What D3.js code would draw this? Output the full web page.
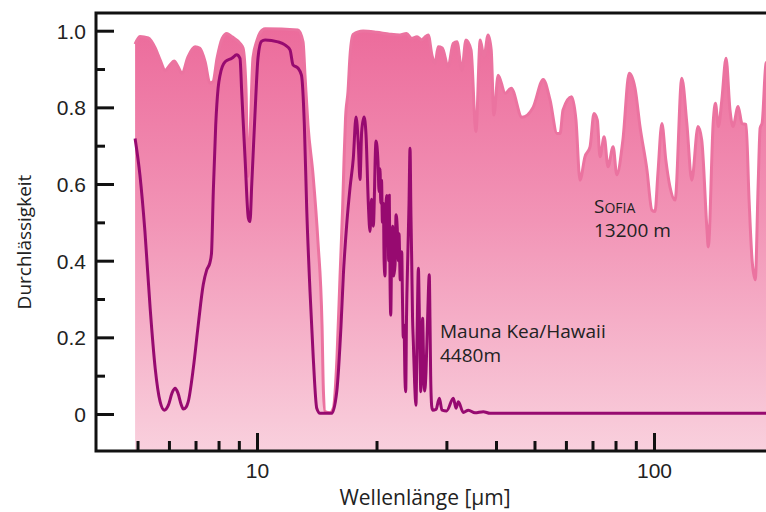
<!DOCTYPE html>
<html>
<head>
<meta charset="utf-8">
<script src="https://cdn.jsdelivr.net/npm/d3@7"></script>
<style>
  body { margin: 0; background: #fff; }
  svg { display: block; font-family: "Open Sans", "DejaVu Sans", sans-serif; }
</style>
</head>
<body>
<div id="chart"></div>
<script>
const width = 766;
const height = 512;
const margin = { top: 13, right: 0, bottom: 61, left: 96 };

// SOFIA (13200 m) – Wellenlänge [µm] und Durchlässigkeit
const sofiaWl = [4.93, 5.07, 5.32, 5.54, 5.70, 5.87, 6.04, 6.18, 6.33, 6.47, 6.70, 6.98, 7.18, 7.40, 7.61, 7.75, 7.93, 8.17, 8.40, 8.65,
  9.06, 9.22, 9.38, 9.49, 9.60, 9.77, 10.0, 10.18, 10.48, 12.68, 13.06, 13.21, 13.44, 13.84, 14.24, 14.58, 14.70, 14.84, 15.27, 15.58,
  15.90, 16.19, 16.43, 16.57, 16.71, 16.95, 17.15, 17.46, 18.5, 20.0, 21.6, 22.9, 23.8, 24.5, 25.3, 26.0, 26.5, 27.0, 27.6, 28.1,
  28.6, 29.3, 30.3, 31.2, 31.9, 32.8, 33.6, 34.6, 35.6, 36.5, 37.3, 38.2, 38.9, 39.5, 40.5, 42.2, 43.7, 46.5, 49.6, 52.6,
  54.7, 57.0, 58.0, 59.0, 62.0, 63.6, 65.1, 67.0, 69.0, 70.6, 72.0, 73.1, 74.9, 76.6, 78.9, 80.6, 83.5, 86.6, 89.6, 92.2,
  96.0, 98.8, 100.6, 102.3, 104.7, 107.1, 109.7, 113.0, 117.5, 121.0, 124.5, 129.1, 131.9, 136.0, 137.0, 141.1, 142.8, 145.3, 148.2, 151.9,
  155.4, 158.1, 162.9, 166.6, 170.6, 173.6, 176.7, 179.9, 183.0, 185.1, 187.3, 191.5, 200];
const sofiaT = [0.965, 0.985, 0.981, 0.955, 0.924, 0.897, 0.911, 0.921, 0.906, 0.889, 0.932, 0.958, 0.954, 0.919, 0.863, 0.867, 0.928, 0.980, 0.993, 0.984,
  0.967, 0.955, 0.85, 0.62, 0.72, 0.93, 0.975, 0.995, 1.005, 1.002, 0.971, 0.884, 0.754, 0.624, 0.450, 0.232, 0.058, 0.006, 0.003, 0.016,
  0.146, 0.363, 0.537, 0.668, 0.772, 0.841, 0.935, 0.990, 0.999, 0.996, 0.991, 0.989, 0.993, 0.980, 0.984, 0.976, 0.984, 0.989, 0.935, 0.915,
  0.958, 0.955, 0.906, 0.967, 0.971, 0.897, 0.976, 0.95, 0.737, 0.976, 0.932, 0.989, 0.95, 0.780, 0.884, 0.837, 0.850, 0.774, 0.800, 0.873,
  0.820, 0.732, 0.732, 0.793, 0.828, 0.767, 0.610, 0.671, 0.697, 0.784, 0.767, 0.671, 0.723, 0.645, 0.697, 0.624, 0.715, 0.889, 0.850, 0.750,
  0.637, 0.532, 0.528, 0.628, 0.758, 0.663, 0.593, 0.558, 0.876, 0.758, 0.610, 0.750, 0.715, 0.480, 0.436, 0.767, 0.811, 0.750, 0.819, 0.928,
  0.793, 0.750, 0.802, 0.758, 0.755, 0.558, 0.40, 0.350, 0.600, 0.746, 0.760, 0.915, 0.93];

// Mauna Kea/Hawaii (4480 m)
const maunaWl = [4.93, 5.07, 5.22, 5.38, 5.54, 5.70, 5.84, 5.98, 6.11, 6.22, 6.32, 6.44, 6.52, 6.63, 6.71, 6.91, 7.11, 7.32, 7.47, 7.61,
  7.68, 7.76, 7.87, 7.98, 8.07, 8.31, 8.64, 8.89, 9.06, 9.15, 9.33, 9.51, 9.60, 9.70, 9.88, 10.06, 10.26, 10.48, 11.29, 11.76,
  12.11, 12.32, 12.69, 12.94, 13.16, 13.34, 13.60, 13.86, 14.14, 14.41, 15.43, 15.88, 16.28, 16.50, 16.82, 17.15, 17.48, 17.76, 18.00, 18.17,
  18.35, 18.60, 18.82, 19.07, 19.26, 19.43, 19.63, 19.94, 20.17, 20.30, 20.41, 20.50, 20.59, 20.70, 20.81, 20.90, 21.01, 21.10, 21.22, 21.30,
  21.38, 21.46, 21.54, 21.63, 21.72, 21.85, 21.97, 22.10, 22.27, 22.40, 22.56, 22.68, 22.79, 22.95, 23.15, 23.25, 23.36, 23.46, 23.58, 23.69,
  23.80, 23.97, 24.15, 24.29, 24.42, 24.53, 24.65, 24.76, 24.95, 25.14, 25.30, 25.50, 25.62, 25.74, 25.86, 26.00, 26.13, 26.27, 26.45, 26.65,
  26.90, 27.16, 27.27, 27.38, 27.55, 27.70, 28.24, 28.80, 29.24, 30.04, 31.23, 31.72, 32.15, 33.09, 34.07, 35.41, 37.15, 38.63, 200];
const maunaT = [0.719, 0.624, 0.476, 0.276, 0.119, 0.032, 0.010, 0.023, 0.055, 0.067, 0.055, 0.025, 0.013, 0.018, 0.032, 0.119, 0.232, 0.337, 0.376, 0.395,
  0.42, 0.580, 0.754, 0.850, 0.884, 0.919, 0.928, 0.937, 0.928, 0.841, 0.667, 0.511, 0.502, 0.600, 0.78, 0.93, 0.972, 0.976, 0.971, 0.963,
  0.950, 0.911, 0.902, 0.884, 0.754, 0.537, 0.319, 0.145, 0.015, 0.002, 0.002, 0.058, 0.232, 0.363, 0.493, 0.590, 0.667, 0.775, 0.702, 0.612,
  0.737, 0.775, 0.728, 0.55, 0.476, 0.56, 0.490, 0.712, 0.66, 0.58, 0.64, 0.55, 0.61, 0.50, 0.55, 0.40, 0.36, 0.52, 0.57, 0.45,
  0.52, 0.40, 0.571, 0.35, 0.258, 0.45, 0.49, 0.36, 0.389, 0.52, 0.484, 0.40, 0.47, 0.35, 0.423, 0.30, 0.20, 0.232, 0.10, 0.058,
  0.25, 0.406, 0.55, 0.693, 0.52, 0.40, 0.25, 0.189, 0.08, 0.023, 0.20, 0.380, 0.28, 0.15, 0.058, 0.12, 0.25, 0.15, 0.06, 0.110,
  0.25, 0.363, 0.25, 0.10, 0.02, 0.010, 0.012, 0.041, 0.010, 0.008, 0.041, 0.015, 0.032, 0.004, 0.010, 0.003, 0.006, 0.002, 0.002];

const yTicks = [0, 0.2, 0.4, 0.6, 0.8, 1.0];
const yTickLabels = ["0", "0.2", "0.4", "0.6", "0.8", "1.0"];
const yMinorTicks = [0.1, 0.3, 0.5, 0.7, 0.9];
const xTicks = [10, 100];
const xMinorTicks = [5, 6, 7, 8, 9, 20, 30, 40, 50, 60, 70, 80, 90];

const sofia = sofiaWl.map((w, i) => ({ w: w, t: sofiaT[i] }));
const mauna = maunaWl.map((w, i) => ({ w: w, t: maunaT[i] }));

const svg = d3.select("#chart").append("svg")
  .attr("width", width)
  .attr("height", height);

const x = d3.scaleLog().domain([3.93, 191.5]).range([margin.left, width - margin.right]);
const y = d3.scaleLinear().domain([0, 1]).range([414, 30.7]);
const bottom = height - margin.bottom;

// Verlauf für die SOFIA-Fläche
const defs = svg.append("defs");
const grad = defs.append("linearGradient")
  .attr("id", "sofia-grad")
  .attr("gradientUnits", "userSpaceOnUse")
  .attr("x1", 0).attr("y1", y(1))
  .attr("x2", 0).attr("y2", bottom);
grad.append("stop").attr("offset", "0%").attr("stop-color", "#ec6c9c");
grad.append("stop").attr("offset", "45%").attr("stop-color", "#f294b6");
grad.append("stop").attr("offset", "100%").attr("stop-color", "#f9d0dd");

defs.append("clipPath").attr("id", "plot-clip")
  .append("rect")
  .attr("x", margin.left).attr("y", margin.top)
  .attr("width", width - margin.left - margin.right)
  .attr("height", bottom - margin.top);

const plot = svg.append("g").attr("clip-path", "url(#plot-clip)");

const area = d3.area()
  .x(d => x(d.w))
  .y0(bottom)
  .y1(d => y(d.t))
  .curve(d3.curveMonotoneX);

const line = d3.line()
  .x(d => x(d.w))
  .y(d => y(d.t))
  .curve(d3.curveMonotoneX);

plot.append("path")
  .datum(sofia)
  .attr("d", area)
  .attr("fill", "url(#sofia-grad)");

plot.append("path")
  .datum(sofia)
  .attr("d", line)
  .attr("fill", "none")
  .attr("stroke", "#eb73a0")
  .attr("stroke-width", 3)
  .attr("stroke-linejoin", "round");

plot.append("path")
  .datum(mauna)
  .attr("d", line)
  .attr("fill", "none")
  .attr("stroke", "#970a70")
  .attr("stroke-width", 3)
  .attr("stroke-linejoin", "round");

// Achsen
const yAxis = svg.append("g").attr("transform", `translate(${margin.left},0)`);
yAxis.call(d3.axisRight(y).tickValues(yTicks).tickSize(18).tickFormat((d, i) => yTickLabels[i]));
yAxis.select(".domain").remove();
yAxis.selectAll(".tick line").attr("stroke", "#111").attr("stroke-width", 3);
yAxis.selectAll(".tick text")
  .attr("x", -10)
  .attr("text-anchor", "end")
  .attr("dy", "0.36em")
  .attr("fill", "#222")
  .style("font-size", "21px");

const yMinor = svg.append("g").attr("transform", `translate(${margin.left},0)`);
yMinor.call(d3.axisRight(y).tickValues(yMinorTicks).tickSize(9).tickFormat(""));
yMinor.select(".domain").remove();
yMinor.selectAll(".tick line").attr("stroke", "#111").attr("stroke-width", 3);

const xAxis = svg.append("g").attr("transform", `translate(0,${bottom})`);
xAxis.call(d3.axisTop(x).tickValues(xTicks).tickSize(18).tickFormat(d3.format("d")));
xAxis.select(".domain").remove();
xAxis.selectAll(".tick line").attr("stroke", "#111").attr("stroke-width", 3);
xAxis.selectAll(".tick text")
  .attr("y", 27)
  .attr("dy", 0)
  .attr("fill", "#222")
  .style("font-size", "21px");

const xMinor = svg.append("g").attr("transform", `translate(0,${bottom})`);
xMinor.call(d3.axisTop(x).tickValues(xMinorTicks).tickSize(10).tickFormat(""));
xMinor.select(".domain").remove();
xMinor.selectAll(".tick line").attr("stroke", "#111").attr("stroke-width", 3);

// Rahmen links, oben, unten
svg.append("path")
  .attr("d", `M${width},${margin.top}H${margin.left}V${bottom}H${width}`)
  .attr("fill", "none")
  .attr("stroke", "#111")
  .attr("stroke-width", 3);

// Achsenbeschriftung
svg.append("text")
  .attr("transform", `translate(31,${(margin.top + bottom) / 2 + 10}) rotate(-90)`)
  .attr("text-anchor", "middle")
  .attr("fill", "#222")
  .style("font-size", "19px")
  .text("Durchlässigkeit");

svg.append("text")
  .attr("x", 425)
  .attr("y", 505)
  .attr("text-anchor", "middle")
  .attr("fill", "#222")
  .style("font-size", "21px")
  .text("Wellenlänge [µm]");

// Beschriftungen der Kurven
const sofiaLabel = svg.append("text")
  .attr("x", 594)
  .attr("y", 213)
  .attr("fill", "#222")
  .style("font-size", "19px");
sofiaLabel.append("tspan").text("S");
sofiaLabel.append("tspan").style("font-size", "14px").text("OFIA");
svg.append("text")
  .attr("x", 594)
  .attr("y", 237)
  .attr("fill", "#222")
  .style("font-size", "19px")
  .text("13200 m");

svg.append("text")
  .attr("x", 440)
  .attr("y", 338)
  .attr("fill", "#222")
  .style("font-size", "19px")
  .text("Mauna Kea/Hawaii");
svg.append("text")
  .attr("x", 440)
  .attr("y", 362)
  .attr("fill", "#222")
  .style("font-size", "19px")
  .text("4480m");
</script>
</body>
</html>
